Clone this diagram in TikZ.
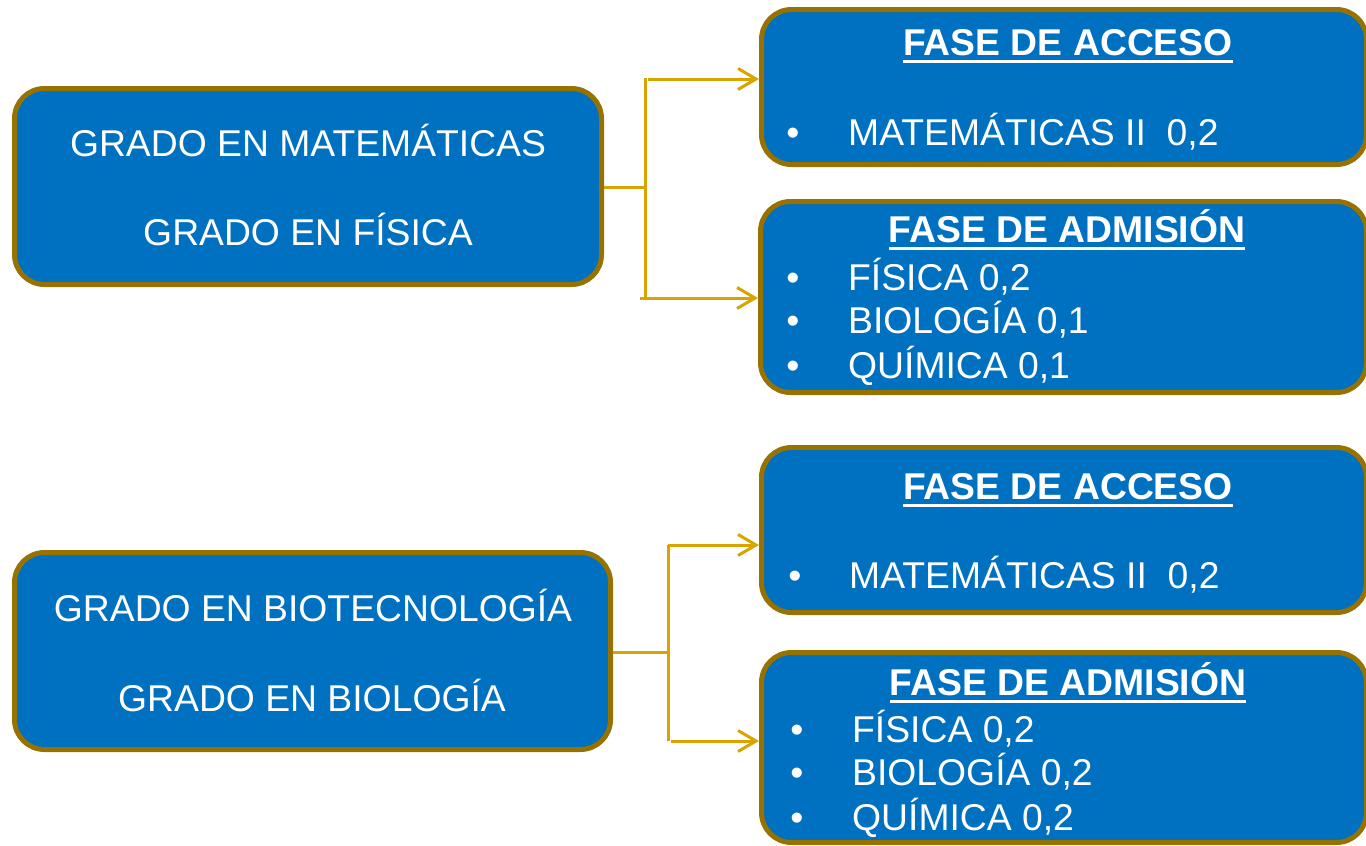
\documentclass[tikz,border=0pt]{standalone}
\usepackage{fontspec}
\setmainfont{Liberation Sans}
\usetikzlibrary{arrows.meta}
\definecolor{boxblue}{HTML}{0070C0}
\definecolor{boxborder}{HTML}{987200}
\definecolor{conn}{HTML}{D9A300}
\newcommand\hul[1]{\setbox0=\hbox{#1}\rlap{\rule[-8pt]{\wd0}{3pt}}\box0}
\begin{document}
\begin{tikzpicture}[x=1pt,y=-1pt,
  box/.style={draw=boxborder, fill=boxblue, line width=5pt, rounded corners=30pt, inner sep=0pt},
  txt/.style={text=white, inner sep=0pt, font=\fontsize{37.3}{44}\selectfont},
  head/.style={txt, anchor=base, font=\fontsize{37.3}{44}\selectfont\bfseries},
  ctr/.style={txt, anchor=base},
  bul/.style={txt, anchor=base},
  item/.style={txt, anchor=base west},
  link/.style={draw=conn, line width=3pt},
  arr/.style={link, -{Straight Barb[length=18pt,width=21pt,line width=3pt]}}]
\useasboundingbox (0,0) rectangle (1366,846);
% boxes
\node[box, minimum width=587pt, minimum height=196pt] (b1) at (308,186.5) {};
\node[box, minimum width=605pt, minimum height=155pt] (b2) at (1064,87) {};
\node[box, minimum width=606pt, minimum height=191pt] (b3) at (1063.5,297) {};
\node[box, minimum width=596pt, minimum height=197pt] (b4) at (312.5,651) {};
\node[box, minimum width=605pt, minimum height=165pt] (b5) at (1064,530) {};
\node[box, minimum width=605pt, minimum height=190pt] (b6) at (1064,747.5) {};
% texts box 1
\node[ctr] (t1a) at (308,156) {GRADO EN MATEMÁTICAS};
\node[ctr] (t1b) at (308,245) {GRADO EN FÍSICA};
% box 4
\node[ctr] (t4a) at (313,621) {GRADO EN BIOTECNOLOGÍA};
\node[ctr] (t4b) at (312,711) {GRADO EN BIOLOGÍA};
% box 2
\node[head] (h2) at (1068,55) {\hul{FASE DE ACCESO}};
\node[bul] (p2a) at (793,145) {•};
\node[item] (i2a) at (848,145) {MATEMÁTICAS II\ \ 0,2};
% box 3
\node[head] (h3) at (1067,242) {\hul{FASE DE ADMISIÓN}};
\node[bul] (p3a) at (793,290) {•};
\node[item] (i3a) at (848,290) {FÍSICA 0,2};
\node[bul] (p3b) at (793,333) {•};
\node[item] (i3b) at (848,333) {BIOLOGÍA 0,1};
\node[bul] (p3c) at (793,378) {•};
\node[item] (i3c) at (848,378) {QUÍMICA 0,1};
% box 5
\node[head] (h5) at (1068,499) {\hul{FASE DE ACCESO}};
\node[bul] (p5a) at (795,588) {•};
\node[item] (i5a) at (849,588) {MATEMÁTICAS II\ \ 0,2};
% box 6
\node[head] (h6) at (1068,695) {\hul{FASE DE ADMISIÓN}};
\node[bul] (p6a) at (797,742) {•};
\node[item] (i6a) at (852,742) {FÍSICA 0,2};
\node[bul] (p6b) at (797,785) {•};
\node[item] (i6b) at (852,785) {BIOLOGÍA 0,2};
\node[bul] (p6c) at (797,830) {•};
\node[item] (i6c) at (852,830) {QUÍMICA 0,2};
% connectors top
\coordinate (j1) at (645,187);
\coordinate (j1t) at (645,78);
\coordinate (j1b) at (645,298);
\coordinate (s1t) at (648,79);
\coordinate (s1b) at (640,298);
\draw[link] (b1.east |- j1) -- (j1);
\draw[link] (j1t) -- (j1b);
\draw[arr] (s1t) -- (b2.west |- s1t);
\draw[arr] (s1b) -- (b3.west |- s1b);
% connectors bottom
\coordinate (j2) at (668,652);
\coordinate (j2t) at (668,545);
\coordinate (j2b) at (668,741);
\coordinate (s2t) at (668,545);
\coordinate (s2b) at (671,741);
\draw[link] (b4.east |- j2) -- (j2);
\draw[link] (j2t) -- (j2b);
\draw[arr] (s2t) -- (b5.west |- s2t);
\draw[arr] (s2b) -- (b6.west |- s2b);
\end{tikzpicture}
\end{document}
